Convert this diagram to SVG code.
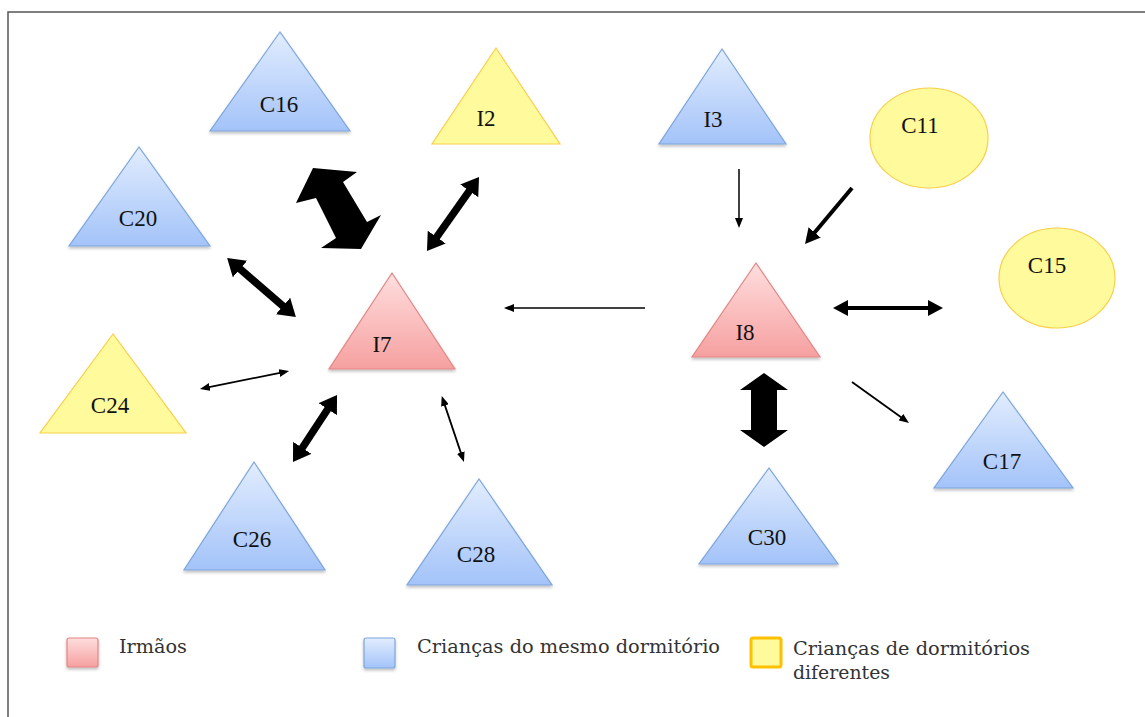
<svg xmlns="http://www.w3.org/2000/svg" width="1145" height="717" viewBox="0 0 1145 717">
<defs>
<linearGradient id="gBlue" x1="0" y1="0" x2="0" y2="1"><stop offset="0" stop-color="#e2edfe"/><stop offset="1" stop-color="#a3c3f9"/></linearGradient>
<linearGradient id="gPink" x1="0" y1="0" x2="0" y2="1"><stop offset="0" stop-color="#ffdede"/><stop offset="1" stop-color="#f6a0a0"/></linearGradient>
<filter id="sh" x="-10%" y="-10%" width="120%" height="130%"><feDropShadow dx="0" dy="2" stdDeviation="1.5" flood-color="#000" flood-opacity="0.25"/></filter>
<marker id="mThin" markerUnits="userSpaceOnUse" markerWidth="10" markerHeight="8" refX="2" refY="4" orient="auto-start-reverse" viewBox="0 0 10 8"><path d="M0,0 L10,4 L0,8 z" fill="#000"/></marker>
<marker id="mMed" markerUnits="userSpaceOnUse" markerWidth="15" markerHeight="16" refX="2" refY="8" orient="auto-start-reverse" viewBox="0 0 15 16"><path d="M0,0 L15,8 L0,16 z" fill="#000"/></marker>
<marker id="mThick" markerUnits="userSpaceOnUse" markerWidth="17" markerHeight="22" refX="2" refY="11" orient="auto-start-reverse" viewBox="0 0 17 22"><path d="M0,0 L17,11 L0,22 z" fill="#000"/></marker>
</defs>
<style>
.blue{fill:url(#gBlue);stroke:#7da6dc;stroke-width:1.2;filter:url(#sh)}
.pink{fill:url(#gPink);stroke:#e38686;stroke-width:1.2;filter:url(#sh)}
.yel{fill:#fffa9b;stroke:#f9cf4a;stroke-width:1.2}
.lbl{font-family:"Liberation Serif","Times New Roman",serif;font-size:23px;fill:#111;text-anchor:middle}
.leg{font-family:"DejaVu Serif",serif;font-size:18px;fill:#333}
.c{stroke:#000;fill:none}
.thin{stroke-width:1.8}
.med{stroke-width:4}
.thick{stroke-width:7.5}
</style>
<rect x="8" y="12" width="1200" height="800" fill="#fff" stroke="#555" stroke-width="1.5"/>

<g id="connectors">
<polygon points="296,203 313,168 357,172 343,182 367,222 381,215 361,249 321,248 336,238 316,198" fill="#000"/>
<polygon points="764,373 788,390 777,390 777,430 788,430 764,447 740,430 751,430 751,390 740,390" fill="#000"/>
<line class="c thick" x1="470.4" y1="189.3" x2="435.6" y2="238.7" marker-start="url(#mThick)" marker-end="url(#mThick)"/>
<line class="c thick" x1="238.5" y1="267.7" x2="284.5" y2="307.3" marker-start="url(#mThick)" marker-end="url(#mThick)"/>
<line class="c thin" x1="207.8" y1="387.4" x2="281.2" y2="372.6" marker-start="url(#mThin)" marker-end="url(#mThin)"/>
<line class="c thick" x1="328.8" y1="407.5" x2="301.2" y2="449.5" marker-start="url(#mThick)" marker-end="url(#mThick)"/>
<line class="c thin" x1="444.3" y1="403.6" x2="461.4" y2="454.4" marker-start="url(#mThin)" marker-end="url(#mThin)"/>
<line class="c" stroke-width="1.5" x1="645" y1="308" x2="512" y2="308" marker-end="url(#mThin)"/>
<line class="c" stroke-width="1.5" x1="739" y1="169" x2="739" y2="220" marker-end="url(#mThin)"/>
<line class="c med" x1="852" y1="188" x2="813.4" y2="234" marker-end="url(#mMed)"/>
<line class="c med" x1="846" y1="308" x2="930" y2="308" marker-start="url(#mMed)" marker-end="url(#mMed)"/>
<line class="c thin" x1="852" y1="382" x2="902.5" y2="418.3" marker-end="url(#mThin)"/>
</g>

<g id="C16"><polygon class="blue" points="280,32 210,131 350,131"/><text class="lbl" x="279" y="112">C16</text></g>
<g id="C20"><polygon class="blue" points="139,147 69,246 210,246"/><text class="lbl" x="138" y="226">C20</text></g>
<g id="I2"><polygon class="yel" points="496,48 432,144 560,144"/><text class="lbl" x="486" y="126">I2</text></g>
<g id="I3"><polygon class="blue" points="722,49 659,144 786,144"/><text class="lbl" x="713" y="127">I3</text></g>
<g id="C11"><ellipse class="yel" cx="929" cy="138" rx="59" ry="50"/><text class="lbl" x="920" y="133">C11</text></g>
<g id="C15"><ellipse class="yel" cx="1057" cy="278" rx="58" ry="50"/><text class="lbl" x="1047" y="273">C15</text></g>
<g id="I7"><polygon class="pink" points="392,273 329,369 455,369"/><text class="lbl" x="382" y="352">I7</text></g>
<g id="I8"><polygon class="pink" points="756,263 692,357 820,357"/><text class="lbl" x="745" y="340">I8</text></g>
<g id="C24"><polygon class="yel" points="113,334 40,433 186,433"/><text class="lbl" x="110" y="413">C24</text></g>
<g id="C26"><polygon class="blue" points="254,462 184,570 325,570"/><text class="lbl" x="252" y="547">C26</text></g>
<g id="C28"><polygon class="blue" points="479,479 407,585 552,585"/><text class="lbl" x="476" y="562">C28</text></g>
<g id="C30"><polygon class="blue" points="769,468 699,564 838,564"/><text class="lbl" x="767" y="545">C30</text></g>
<g id="C17"><polygon class="blue" points="1003,392 934,488 1073,488"/><text class="lbl" x="1002" y="469">C17</text></g>

<g id="legend-irmaos"><rect x="67" y="638" width="31" height="29" rx="2" class="pink"/><text class="leg" x="119" y="653" textLength="68" lengthAdjust="spacingAndGlyphs">Irmãos</text></g>
<g id="legend-mesmo"><rect x="364" y="638" width="31" height="30" rx="2" class="blue"/><text class="leg" x="417" y="653" textLength="303" lengthAdjust="spacingAndGlyphs">Crianças do mesmo dormitório</text></g>
<g id="legend-diferentes"><rect x="751" y="638" width="30" height="29" rx="2" fill="#fffa9b" stroke="#ffc000" stroke-width="3"/><text class="leg" x="793" y="655" textLength="237" lengthAdjust="spacingAndGlyphs">Crianças de dormitórios</text><text class="leg" x="793" y="679" textLength="97" lengthAdjust="spacingAndGlyphs">diferentes</text></g>
</svg>
